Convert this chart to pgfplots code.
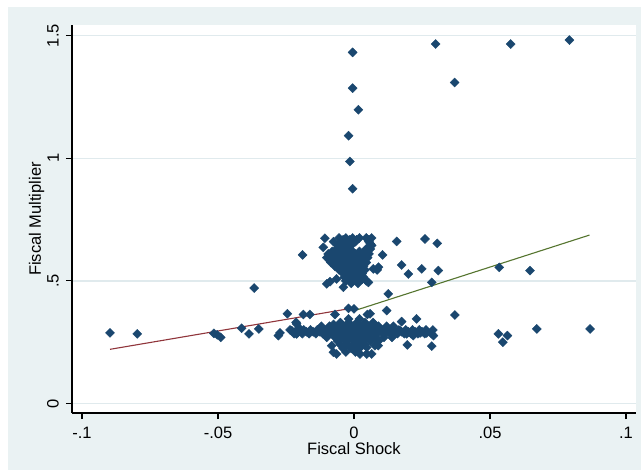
\documentclass[border=0pt]{standalone}
\usepackage{pgfplots}
\pgfplotsset{compat=1.18}
\usepackage{fontspec}
\setmainfont{Liberation Sans}
\definecolor{stbg}{HTML}{EAF2F3}
\definecolor{stgrid}{HTML}{E0EAED}
\definecolor{stnavy}{HTML}{1A476F}
\definecolor{stmaroon}{HTML}{90353B}
\definecolor{stgreen}{HTML}{55752F}
\newcommand{\lblfont}{\fontsize{16.5}{18}\selectfont}
\begin{document}
\begin{tikzpicture}
\useasboundingbox (-72pt,-59pt) rectangle (569pt,413pt);
\fill[stbg] (-64pt,-57pt) rectangle (569pt,406pt);
\begin{axis}[
  at={(0pt,0pt)}, anchor=south west,
  scale only axis, width=564pt, height=388pt,
  xmin=-0.10368, xmax=0.10368, ymin=-0.0387, ymax=1.5436,
  axis lines*=left,
  axis line style={black, line width=1.1pt},
  axis background/.style={fill=white},
  xtick={-0.1,-0.05,0,0.05,0.1}, xticklabels={-.1,-.05,0,.05,.1},
  ytick={0,0.5,1,1.5}, yticklabels={0,.5,1,1.5},
  tick align=outside, major tick length=6pt,
  tick style={black, line width=1.1pt},
  ymajorgrids, grid style={stgrid, line width=1.5pt},
  tick label style={font=\lblfont},
  xticklabel style={anchor=base, yshift=-19pt},
  yticklabel style={xshift=-7pt, rotate=90, anchor=south, inner sep=0pt},
  xlabel={Fiscal Shock},
  ylabel={Fiscal Multiplier},
  xlabel style={at={(axis description cs:0.5,-0.1057)}, anchor=base, font=\lblfont},
  ylabel style={at={(axis description cs:-0.055,0.5)}, anchor=base, font=\lblfont},
]
% scatter of fiscal multiplier against fiscal shock
\addplot[only marks, mark=square*, mark size=3.2pt,
  mark options={rotate=45, fill=stnavy, draw=stnavy, line width=0.4pt}]
coordinates {
% outliers at the top
(-0.0005,1.432) (0.030,1.466) (0.0576,1.466) (0.0792,1.482) (-0.0005,1.286)
(0.037,1.309) (0.0016,1.198) (-0.002,1.092) (-0.0015,0.987) (-0.0005,0.876)
% left side
(-0.0897,0.288) (-0.0797,0.284) (-0.0367,0.471) (-0.0515,0.286) (-0.0503,0.280)
(-0.0490,0.270) (-0.0413,0.307) (-0.0386,0.284) (-0.0350,0.304) (-0.0272,0.288)
(-0.0278,0.277) (-0.0245,0.366) (-0.0229,0.297) (-0.0211,0.325) (-0.0211,0.284)
(-0.0186,0.363) (-0.0162,0.363) (-0.0213,0.331) (-0.0189,0.606)
% right side
(0.0534,0.555) (0.0647,0.542) (0.0531,0.284) (0.0564,0.277) (0.0547,0.250)
(0.0672,0.304) (0.0868,0.304) (0.0371,0.361) (0.0230,0.345) (0.0286,0.494)
(0.0261,0.671) (0.0306,0.653) (0.0175,0.565) (0.0200,0.528) (0.0249,0.549)
(0.0310,0.542) (0.0157,0.661) (0.0105,0.606) (0.0071,0.549) (0.0090,0.556)
(0.0126,0.447) (0.0120,0.379) (0.0059,0.366) (0.0175,0.334) (0.0049,0.363)
(-0.0070,0.363) (-0.0020,0.388) (0.0000,0.386)
% upper cluster
(-0.0055,0.675) (-0.003,0.675) (-0.0005,0.675) (0.002,0.675) (0.0045,0.675) (0.0065,0.675)
(-0.004,0.6675) (-0.0015,0.6675) (0.001,0.6675) (0.0055,0.6675)
(-0.0075,0.66) (-0.0045,0.66) (-0.002,0.66) (0.0005,0.66) (0.0055,0.66)
(-0.005,0.652) (-0.0025,0.652) (0.006,0.652)
(-0.006,0.645) (-0.0035,0.645) (-0.001,0.645) (0.0065,0.645)
(-0.0065,0.63) (-0.004,0.63) (-0.0015,0.63) (0.0045,0.63) (0.006,0.63)
(-0.008,0.62) (-0.0055,0.62) (-0.003,0.62) (-0.0005,0.62) (0.002,0.62) (0.0045,0.62)
(-0.0095,0.61) (-0.007,0.61) (-0.0045,0.61) (-0.002,0.61) (0.0005,0.61) (0.003,0.61) (0.0055,0.61)
(-0.0085,0.603) (-0.006,0.603) (-0.0035,0.603) (-0.001,0.603) (0.0015,0.603) (0.004,0.603)
(-0.01,0.595) (-0.0075,0.595) (-0.005,0.595) (-0.0025,0.595) (0,0.595) (0.0025,0.595) (0.005,0.595)
(-0.009,0.585) (-0.0065,0.585) (-0.004,0.585) (-0.0015,0.585) (0.001,0.585) (0.0035,0.585)
(-0.0085,0.575) (-0.006,0.575) (-0.003,0.575) (-0.0005,0.575) (0.002,0.575) (0.0045,0.575)
(-0.005,0.567) (-0.002,0.567) (0.0005,0.567) (0.003,0.567)
(-0.007,0.56) (-0.0035,0.56) (-0.001,0.56) (0.0015,0.56) (0.0035,0.56)
(-0.004,0.552) (-0.0015,0.552) (0.001,0.552) (0.003,0.552)
(-0.0055,0.545) (-0.003,0.545) (-0.0005,0.545) (0.002,0.545) (0.004,0.545)
(-0.003,0.537) (0,0.537) (0.002,0.537)
(-0.004,0.53) (-0.0015,0.53) (0.001,0.53) (0.003,0.53)
(-0.0025,0.522) (0,0.522) (0.0025,0.522)
(-0.0035,0.515) (-0.001,0.515) (0.0015,0.515) (0.0035,0.515)
(-0.002,0.507) (0.0005,0.507) (0.003,0.507)
(-0.003,0.5) (-0.0005,0.5) (0.002,0.5) (0.0045,0.5)
(-0.001,0.49) (0.0015,0.49)
(-0.0107,0.674) (-0.0113,0.637) (-0.01,0.488) (-0.0088,0.497) (-0.0064,0.508)
(-0.0039,0.474) (0.0053,0.494) (0.0085,0.545)
% lower band
(-0.0235,0.30) (-0.021,0.30) (-0.0185,0.30) (-0.016,0.30) (-0.0135,0.30) (-0.011,0.30)
(-0.0085,0.30) (-0.006,0.30) (-0.0035,0.30) (-0.001,0.30) (0.0015,0.30) (0.004,0.30)
(0.0065,0.30) (0.009,0.30) (0.0115,0.30) (0.014,0.30) (0.0165,0.30) (0.019,0.30)
(0.0215,0.30) (0.024,0.30) (0.0265,0.30) (0.029,0.30)
(-0.0205,0.2925) (-0.0175,0.2925) (-0.015,0.2925) (-0.0125,0.2925) (-0.01,0.2925)
(-0.0075,0.2925) (-0.005,0.2925) (-0.0025,0.2925) (0,0.2925) (0.0025,0.2925)
(0.005,0.2925) (0.0075,0.2925) (0.01,0.2925) (0.0125,0.2925) (0.015,0.2925)
(0.0175,0.2925) (0.02,0.2925) (0.0225,0.2925) (0.025,0.2925)
(-0.022,0.285) (-0.019,0.285) (-0.0165,0.285) (-0.014,0.285) (-0.0115,0.285) (-0.009,0.285)
(-0.0065,0.285) (-0.004,0.285) (-0.0015,0.285) (0.001,0.285) (0.0035,0.285) (0.006,0.285)
(0.0085,0.285) (0.011,0.285) (0.0135,0.285) (0.016,0.285) (0.0185,0.285) (0.021,0.285)
(0.0235,0.285) (0.026,0.285) (0.0285,0.285)
(-0.012,0.315) (-0.009,0.315) (-0.006,0.315) (-0.003,0.315) (0,0.315) (0.003,0.315)
(0.006,0.315) (0.009,0.315) (0.012,0.315) (0.0145,0.315)
(-0.0075,0.3225) (-0.0045,0.3225) (-0.0015,0.3225) (0.0015,0.3225) (0.0045,0.3225) (0.0075,0.3225)
(-0.005,0.33) (-0.002,0.33) (0.001,0.33) (0.004,0.33) (0.007,0.33)
(-0.002,0.345) (0.002,0.345)
(-0.01,0.27) (-0.007,0.27) (-0.004,0.27) (-0.001,0.27) (0.002,0.27) (0.005,0.27)
(0.008,0.27) (0.011,0.27) (0.014,0.27)
(-0.0055,0.262) (-0.0025,0.262) (0.0005,0.262) (0.0035,0.262) (0.0065,0.262)
(-0.006,0.255) (-0.003,0.255) (0,0.255) (0.003,0.255) (0.006,0.255) (0.009,0.255)
(-0.005,0.24) (-0.002,0.24) (0.001,0.24) (0.004,0.24)
(-0.0035,0.232) (-0.0005,0.232) (0.0025,0.232)
(-0.004,0.225) (-0.001,0.225) (0.002,0.225)
(-0.003,0.21) (0.0005,0.21)
(-0.0082,0.236) (-0.0076,0.209) (-0.0064,0.202) (0.0022,0.236) (0.0047,0.229)
(0.0077,0.236) (0.0022,0.202) (0.0047,0.202) (0.0089,0.236) (0.0196,0.239)
(0.0286,0.234) (0.0065,0.202) (-0.0199,0.305) (0.0096,0.304) (0.012,0.304)
(0.0145,0.297) (0.0169,0.297) (0.0194,0.284) (0.0218,0.277) (0.0243,0.288)
(0.0267,0.288) (0.0292,0.277)
};
% linear fits, negative and positive shocks
\addplot[stmaroon, line width=1.1pt] coordinates {(-0.0897,0.221) (0.0,0.390)};
\addplot[stgreen, line width=1.1pt] coordinates {(0.0,0.378) (0.0866,0.687)};
\end{axis}
\end{tikzpicture}
\end{document}
